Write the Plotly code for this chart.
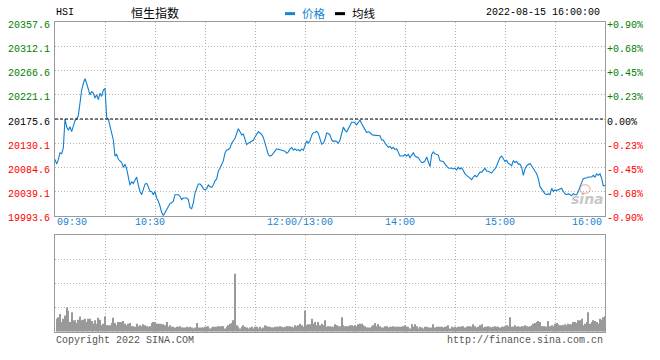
import plotly.graph_objects as go

# ---------------- data ----------------
prev_close = 20175.6
price_levels = [19993.6, 20039.1, 20084.6, 20130.1, 20175.6, 20221.1, 20266.6, 20312.1, 20357.6]
pct_labels = ["-0.90%", "-0.68%", "-0.45%", "-0.23%", "0.00%", "+0.23%", "+0.45%", "+0.68%", "+0.90%"]
time_ticks = [0, 60, 150, 210, 270, 330]
time_labels = ["09:30", "10:30", "12:00/13:00", "14:00", "15:00", "16:00"]
grid_minutes = [0, 30, 60, 90, 120, 150, 180, 210, 240, 270, 300, 330]
vol_levels = [0, 25, 50, 75, 100]

# price per trading minute (0 = 09:30, 150 = 12:00/13:00, 330 = 16:00)
price = [
    20099.7, 20090.6, 20099.7, 20111.9, 20110.1, 20121.0, 20175.6, 20161.0, 20154.3, 20161.0,
    20151.9, 20163.4, 20172.5, 20175.6, 20181.6, 20206.0, 20230.2, 20242.4, 20251.5, 20242.4,
    20233.3, 20221.1, 20227.1, 20224.2, 20215.1, 20221.1, 20212.0, 20224.2, 20218.0, 20230.2,
    20233.3, 20178.7, 20175.6, 20160.5, 20151.4, 20136.1, 20105.9, 20108.8, 20099.7, 20096.8,
    20093.7, 20084.6, 20090.6, 20081.5, 20066.4, 20051.3, 20057.3, 20054.2, 20060.4, 20066.4,
    20051.3, 20039.1, 20033.1, 20045.1, 20053.1, 20054.2, 20048.2, 20039.1, 20039.1, 20033.1,
    20039.1, 20026.9, 20020.9, 20011.8, 19999.6, 19993.6, 19999.6, 20002.7, 20008.7, 20016.7,
    20017.8, 20020.9, 20033.1, 20033.1, 20033.1, 20030.0, 20024.0, 20026.9, 20026.9, 20026.9,
    20024.0, 20008.7, 20006.9, 20017.8, 20036.0, 20045.1, 20053.1, 20053.1, 20050.0, 20044.6,
    20042.2, 20044.6, 20051.3, 20048.2, 20046.9, 20051.3, 20059.1, 20062.8, 20077.3, 20082.8,
    20090.6, 20096.8, 20111.9, 20117.4, 20117.9, 20121.0, 20130.1, 20135.6, 20139.2, 20148.3,
    20157.4, 20151.4, 20145.6, 20147.4, 20139.2, 20127.4, 20130.1, 20131.9, 20133.2, 20135.6,
    20141.9, 20147.4, 20151.9, 20149.2, 20146.5, 20141.0, 20131.9, 20119.2, 20108.3, 20105.9,
    20107.4, 20111.0, 20116.5, 20119.5, 20118.6, 20117.4, 20116.8, 20115.5, 20115.0, 20111.0,
    20113.7, 20119.2, 20121.9, 20117.4, 20119.2, 20116.5, 20117.9, 20115.5, 20119.2, 20116.5,
    20124.1, 20134.3, 20130.1, 20134.7, 20144.7, 20149.6, 20150.1, 20152.5, 20148.3, 20136.1,
    20128.3, 20130.1, 20137.4, 20149.2, 20148.3, 20145.6, 20136.1, 20133.2, 20134.3, 20133.2,
    20130.1, 20136.1, 20151.4, 20160.5, 20154.3, 20151.4, 20157.4, 20163.4, 20169.6, 20169.6,
    20168.3, 20164.7, 20170.7, 20173.8, 20166.5, 20159.6, 20155.6, 20150.1, 20151.4, 20150.1,
    20146.5, 20145.2, 20145.2, 20145.2, 20145.2, 20144.1, 20136.1, 20136.1, 20130.1, 20127.1,
    20122.3, 20124.1, 20119.7, 20122.3, 20117.9, 20119.7, 20111.9, 20105.9, 20105.9, 20105.9,
    20108.8, 20105.9, 20108.8, 20102.8, 20107.7, 20111.9, 20105.9, 20104.1, 20102.8, 20097.9,
    20093.7, 20093.7, 20096.8, 20104.1, 20096.8, 20085.9, 20108.8, 20113.7, 20110.1, 20108.8,
    20107.7, 20096.8, 20096.8, 20095.5, 20090.6, 20085.9, 20083.3, 20082.8, 20083.3, 20081.5,
    20082.8, 20079.7, 20084.6, 20081.5, 20083.3, 20078.6, 20072.4, 20069.5, 20066.4, 20063.3,
    20061.5, 20066.4, 20069.5, 20066.4, 20072.4, 20075.5, 20075.5, 20078.6, 20082.8, 20077.3,
    20077.3, 20075.5, 20073.7, 20078.6, 20081.5, 20087.7, 20096.8, 20102.8, 20105.9, 20099.7,
    20095.5, 20097.9, 20091.9, 20090.6, 20087.7, 20096.8, 20093.7, 20095.5, 20090.6, 20090.6,
    20084.6, 20069.5, 20081.5, 20087.7, 20089.5, 20091.9, 20087.7, 20081.5, 20077.3, 20072.4,
    20063.3, 20048.2, 20043.3, 20039.1, 20034.9, 20033.1, 20034.9, 20033.1, 20045.1, 20039.1,
    20042.2, 20040.9, 20042.2, 20043.3, 20045.1, 20039.1, 20034.9, 20033.1, 20034.9, 20033.1,
    20031.3, 20034.9, 20033.1, 20033.1, 20039.1, 20048.2, 20057.3, 20063.3, 20064.6, 20064.6,
    20066.4, 20066.4, 20066.4, 20069.5, 20066.4, 20072.4, 20069.5, 20072.4, 20063.3, 20049.9,
    20050.4,
]
minutes = list(range(len(price)))

# volume per trading minute (1..330), relative units (panel top = 100)
volume = [
    13.3, 15, 18.3, 10, 13.3, 16.7, 25, 21.7, 10, 20,
    11.7, 11.7, 9, 12.3, 15.7, 11.7, 12.3, 13.3, 10, 13.3,
    13.3, 11, 8.3, 11.7, 8.3, 14.3, 12.3, 6.7, 8.3, 15.7,
    6.7, 6.7, 6.7, 9, 14.3, 9, 6.7, 10, 10, 10,
    11, 8.3, 6.7, 8.3, 9, 5.7, 5.7, 5, 8.3, 5.7,
    6.7, 5.7, 7.7, 6.7, 5.7, 5, 5.7, 9, 10, 10,
    8.3, 8.3, 8.3, 7.7, 7.7, 6.7, 10, 5, 6.7, 5,
    5, 4.3, 5, 5, 5.7, 4.3, 4.3, 4.3, 5, 4.3,
    5, 4.3, 3.3, 4.3, 9, 4.3, 4.3, 4.3, 4.3, 5,
    5, 5.7, 3.3, 4.3, 5, 5, 5, 5.7, 5.7, 5.7,
    5.7, 3.3, 5, 6.7, 8.3, 9, 11.7, 60, 6.7, 5,
    3.3, 5, 6.7, 5, 4.3, 3.3, 4.3, 5, 3.3, 5,
    5, 3.3, 5, 3.3, 4.3, 6.7, 5.7, 5, 5, 4.3,
    4.3, 5, 5, 5, 5.7, 5, 4.3, 5, 5.7, 5.7,
    5.7, 5, 4.3, 6.7, 5.7, 6.7, 8.3, 6.7, 5, 22,
    6.7, 7.7, 7.7, 13.3, 8.3, 10, 6.7, 10, 6.7, 8.3,
    6.7, 11.7, 5, 5.7, 5.7, 5, 5, 7.7, 6.7, 5.7,
    5.7, 15, 6.7, 5.7, 5.7, 5.7, 6.7, 6.7, 5.7, 6.7,
    5.7, 7.7, 8.3, 8.3, 6.7, 5.7, 4.3, 4.3, 4.3, 5.7,
    6.7, 9, 5.7, 7.7, 5.7, 4.3, 4.3, 5.7, 5.7, 4.3,
    5, 5, 5.7, 5, 5, 5, 5, 5, 5.7, 6.7,
    5, 5, 3.3, 7.7, 5, 7.7, 5.7, 3.3, 5, 4.3,
    3.3, 5, 5, 4.3, 4.3, 4.3, 7.7, 4.3, 5, 5,
    5, 5, 4.3, 5, 5.7, 6.7, 3.3, 5, 4.3, 5,
    4.3, 5, 5, 5.7, 5.7, 4.3, 5, 5.7, 5.7, 5,
    7.7, 5.7, 4.3, 5, 6.7, 7.7, 4.3, 5, 5, 5.7,
    5, 4.3, 5, 5.7, 5, 5, 4.3, 5, 5, 5.7,
    6.7, 5.7, 15, 5, 5, 6.7, 5, 5.7, 5, 5.7,
    5.7, 6.7, 5.7, 5, 5.7, 6.7, 8.3, 9, 10, 11,
    10, 5.7, 5.7, 5.7, 5, 11, 5.7, 6.7, 5.7, 8.3,
    9, 7.7, 6.7, 6.7, 6.7, 7.7, 6.7, 8.3, 7.7, 7.7,
    10, 10, 9, 11.7, 11.7, 13.3, 6.7, 8.3, 10, 20,
    8.3, 10, 11.7, 11, 10, 8.3, 13.3, 12.3, 15, 16,
]
vol_minutes = list(range(1, len(volume) + 1))

# ---------------- styling ----------------
W, H = 660, 360
MONO = "Liberation Mono, DejaVu Sans Mono, monospace"
CJK = "Noto Sans CJK SC, sans-serif"
GREEN, RED, BLACK = "#008000", "#ff0000", "#000000"
BLUE = "#1a82d2"
LINE_BLUE = "#0f7fd0"
FRAME = "#9a9a9a"
GRID = "#b4b4b4"


def px(x):
    return x / W


def py(y):
    return 1 - y / H


def level_color(v):
    if abs(v - prev_close) < 1e-6:
        return BLACK
    return GREEN if v > prev_close else RED


left_text = [f'<span style="color:{level_color(v)}">{v:.1f}</span>' for v in price_levels]
right_text = [f'<span style="color:{level_color(v)}">{t}</span>' for v, t in zip(price_levels, pct_labels)]

fig = go.Figure()
fig.add_trace(go.Scatter(x=minutes, y=price, mode="lines",
                         line=dict(color=LINE_BLUE, width=1.1),
                         xaxis="x", yaxis="y", hoverinfo="skip", showlegend=False))
fig.add_trace(go.Scatter(x=[minutes[0], minutes[-1]], y=[price_levels[0], price_levels[-1]],
                         mode="markers", marker=dict(opacity=0), xaxis="x", yaxis="y2",
                         hoverinfo="skip", showlegend=False))
fig.add_trace(go.Bar(x=vol_minutes, y=volume, width=0.62, marker=dict(color="#999999", line=dict(width=0)),
                     xaxis="x2", yaxis="y3", hoverinfo="skip", showlegend=False))

xcommon = dict(range=[0, 330], tickvals=grid_minutes, showticklabels=False, ticks="",
               showgrid=True, gridcolor=GRID, griddash="1px,2px", gridwidth=1,
               showline=True, mirror=True, linecolor=FRAME, linewidth=1, zeroline=False, fixedrange=True)

fig.update_layout(
    width=W, height=H, autosize=False,
    margin=dict(l=0, r=0, t=0, b=0),
    paper_bgcolor="white", plot_bgcolor="white",
    showlegend=False,
    xaxis=dict(domain=[px(55), px(605)], anchor="y", **xcommon),
    xaxis2=dict(domain=[px(55), px(605)], anchor="y3", matches="x", **xcommon),
    yaxis=dict(domain=[py(220), py(20)], range=[price_levels[0], price_levels[-1]],
               tickvals=price_levels, ticktext=left_text, ticks="", ticklabelstandoff=2,
               ticklabelshift=2, tickfont=dict(family=MONO, size=10),
               showgrid=True, gridcolor=GRID, griddash="1px,2px", gridwidth=1,
               showline=True, mirror=True, linecolor=FRAME, linewidth=1, zeroline=False,
               anchor="x", fixedrange=True),
    yaxis2=dict(overlaying="y", side="right", range=[price_levels[0], price_levels[-1]],
                tickvals=price_levels, ticktext=right_text, ticks="", ticklabelstandoff=1,
                ticklabelshift=2, tickfont=dict(family=MONO, size=10),
                showgrid=False, showline=False, zeroline=False, anchor="x", fixedrange=True),
    yaxis3=dict(domain=[py(340), py(240)], range=[0, 100], tickvals=vol_levels,
                showticklabels=False, ticks="",
                showgrid=True, gridcolor=GRID, griddash="1px,2px", gridwidth=1,
                showline=True, mirror=True, linecolor=FRAME, linewidth=1, zeroline=False,
                anchor="x2", fixedrange=True),
)

# previous close dashed line
fig.add_shape(type="line", xref="x", yref="y", x0=0, x1=330, y0=prev_close, y1=prev_close,
              line=dict(color="black", width=1, dash="3px,2px"))

ann = []
# time labels
for t, lab in zip(time_ticks, time_labels):
    if t == time_ticks[0]:
        xa, xs = "left", 0
    elif t == time_ticks[-1]:
        xa, xs = "right", -1
    else:
        xa, xs = "center", -5
    ann.append(dict(x=t, xref="x", y=py(227), yref="paper", text=lab, showarrow=False,
                    xanchor=xa, yanchor="middle", xshift=xs,
                    font=dict(family=MONO, size=10, color=BLUE)))

# header
ann.append(dict(x=px(54), y=py(10), xref="paper", yref="paper", text="HSI", showarrow=False,
                xanchor="left", yanchor="middle", font=dict(family=MONO, size=10, color="black")))
ann.append(dict(x=px(155), y=py(10), xref="paper", yref="paper", text="恒生指数", showarrow=False,
                xanchor="center", yanchor="middle", font=dict(family=CJK, size=12, color="black")))
ann.append(dict(x=px(300), y=py(10), xref="paper", yref="paper", text="价格", showarrow=False,
                xanchor="left", yanchor="middle", font=dict(family=CJK, size=11.5, color=BLUE)))
ann.append(dict(x=px(350), y=py(10), xref="paper", yref="paper", text="均线", showarrow=False,
                xanchor="left", yanchor="middle", font=dict(family=CJK, size=11.5, color="black")))
ann.append(dict(x=px(602), y=py(10), xref="paper", yref="paper", text="2022-08-15 16:00:00",
                showarrow=False, xanchor="right", yanchor="middle",
                font=dict(family=MONO, size=10, color="black")))
# footer
ann.append(dict(x=px(54), y=py(349), xref="paper", yref="paper", text="Copyright 2022 SINA.COM",
                showarrow=False, xanchor="left", yanchor="middle",
                font=dict(family=MONO, size=10, color="#555555")))
ann.append(dict(x=px(605), y=py(349), xref="paper", yref="paper", text="http://finance.sina.com.cn",
                showarrow=False, xanchor="right", yanchor="middle",
                font=dict(family=MONO, size=10, color="#555555")))
# watermark
ann.append(dict(x=px(587), y=py(203), xref="paper", yref="paper", text="<b><i>sina</i></b>",
                showarrow=False, xanchor="center", yanchor="middle",
                font=dict(family="DejaVu Sans, sans-serif", size=14, color="rgba(150,150,150,0.55)")))
fig.update_layout(annotations=ann)

# legend swatches
fig.add_shape(type="line", xref="paper", yref="paper", x0=px(285), x1=px(295), y0=py(11), y1=py(11),
              line=dict(color=BLUE, width=3))
fig.add_shape(type="line", xref="paper", yref="paper", x0=px(335), x1=px(345), y0=py(11), y1=py(11),
              line=dict(color="black", width=3))
# watermark eye
fig.add_shape(type="circle", xref="paper", yref="paper", x0=px(580), x1=px(590), y0=py(197), y1=py(188),
              line=dict(color="rgba(230,120,120,0.45)", width=1.5), fillcolor="rgba(255,255,255,0)")

fig.write_html("out.html", config={"displayModeBar": False},
               post_script="document.body.style.margin='0';document.body.style.padding='0';")
